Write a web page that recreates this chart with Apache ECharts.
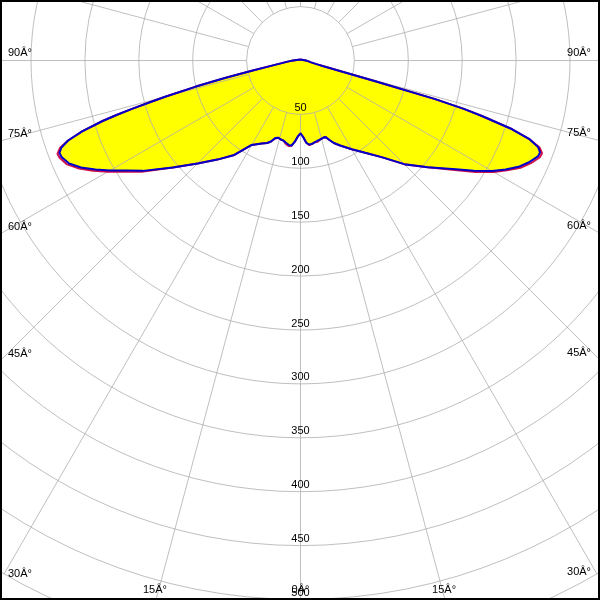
<!DOCTYPE html>
<html><head><meta charset="utf-8">
<script src="https://cdn.jsdelivr.net/npm/echarts@6/dist/echarts.min.js"></script>
<style>html,body{margin:0;padding:0;background:#fff}
#wrap{position:relative;width:600px;height:600px}
#base,#over{position:absolute;left:0;top:0;width:600px;height:600px}</style>
</head><body><div id="wrap"><div id="base"></div><div id="over"></div></div>
<script>
// Angles from nadir (degrees); left side = positive, right side = negative
const gamma = [0,2,4,6,8,10,12,14,16,18, 20,22,25,30,35,40,45,50,55,57.5, 60,62,64,66,68,69,70,71,72,73, 73.5,74,74.5,75,76,77,78,80,85,90, 180];
// Intensities (blue curve)
const blueLeft  = [68,70.5,75.5,79.5,79,77.5,76,75.5,74.5,75.5, 80,82.5,85,90.5,107,120,135,154.5,178.5,190, 204,215.5,226.5,235,239,239.5,236,228,213,192, 178,162,145,130,100,72,48,26,12,7, 1];
const blueRight = [67.5,71,76.5,78.5,78,77,76,75.5,74.8,74.5, 78.5,82.5,87,95,104.5,117,136,154,176,190.5, 205,215.5,225,232,237.5,238,234.5,225,206.5,176, 158,130,72,42,22,16,13,10,7,5, 1];
// Intensities (red curve)
const redLeft   = [68,70.5,75.5,79.5,80,78.5,76,75.5,74.5,76, 80,82.5,85,90.5,107,120,135,154.5,180,192, 206.5,218,228.5,237,241,241.5,237.5,228,213,192, 178,162,145,130,100,72,48,26,12,7, 1];
const redRight  = [67.5,71,76.5,79,78,77,77,75.5,74.8,74.5, 78.5,82.5,87,95,104.5,117,136,154,177.5,192.5, 207,217,227,234,239.5,240,236,225,206.5,176, 158,130,72,42,22,16,13,10,7,5, 1];
// Tick labels
const radialTicks = [50,100,150,200,250,300,350,400,450,500];
const angleTicks = [0,15,30,45,60,75,90];
const degSuffix = 'Â°';

const CX = 300.5, CY = 60.5, PX = 1.078, W = 600, H = 600;
const GRID = 'rgba(175,175,175,0.8)';
const FONT = '"Liberation Sans", Arial, sans-serif';

function curve(left, right) {
  const pts = [];
  for (let i = gamma.length - 1; i >= 0; i--) pts.push([right[i], -gamma[i]]);
  for (let i = 0; i < gamma.length; i++) pts.push([left[i], gamma[i]]);
  return pts;
}

const dataPolar = {center:[CX, CY], radius: 500 * PX};
const dataRadius = {polarIndex:0, type:'value', min:0, max:500, show:false};
const dataAngle = {polarIndex:0, type:'value', min:-180, max:180, startAngle:90, clockwise:true, show:false};

// Base layer: yellow fill only
const baseChart = echarts.init(document.getElementById('base'), null, {renderer:'canvas'});
baseChart.setOption({
  animation: false,
  backgroundColor: '#fff',
  polar: [dataPolar],
  radiusAxis: [dataRadius],
  angleAxis: [dataAngle],
  series: [
    {type:'line', coordinateSystem:'polar', polarIndex:0, data: curve(blueLeft, blueRight),
     symbol:'none', lineStyle:{width:0}, areaStyle:{color:'#ffff00', opacity:1}, silent:true}
  ]
});

// Angle labels where each spoke meets the picture edge
const graphics = [];
angleTicks.forEach(a => {
  const sides = a === 0 ? [1] : [-1, 1];
  sides.forEach(side => {
    const s = Math.sin(a * Math.PI / 180), c = Math.cos(a * Math.PI / 180);
    const tx = s > 1e-9 ? (side < 0 ? CX : (W - CX)) / s : Infinity;
    const ty = c > 1e-9 ? (H - CY) / c : Infinity;
    const txt = a + degSuffix;
    if (tx <= ty) {
      const y = CY + tx * c;
      graphics.push({type:'text', x: side < 0 ? 8 : 591, y: y - 2, silent:true, z: 50,
        style:{text: txt, fill:'#000', font:'11px ' + FONT, align: side < 0 ? 'left' : 'right', verticalAlign:'bottom'}});
    } else {
      const x = CX + side * ty * s;
      graphics.push({type:'text', x: a === 0 ? CX : x - 1, y: 595, silent:true, z: 50,
        style:{text: txt, fill:'#000', font:'11px ' + FONT, align:'center', verticalAlign:'bottom'}});
    }
  });
});
graphics.push({type:'rect', shape:{x:1, y:1, width:598, height:598}, silent:true, z:100,
  style:{fill:'none', stroke:'#000', lineWidth:2}});

// Overlay layer: grid, curves, labels
const overChart = echarts.init(document.getElementById('over'), null, {renderer:'canvas'});
overChart.setOption({
  animation: false,
  backgroundColor: 'transparent',
  polar: [
    dataPolar,
    {center:[CX, CY], radius: [50 * PX, 550 * PX]}
  ],
  radiusAxis: [
    dataRadius,
    {polarIndex:1, type:'value', min:50, max:550, interval:50,
     axisLine:{show:false}, axisTick:{show:false},
     splitLine:{show:true, lineStyle:{color:GRID, width:1}},
     axisLabel:{show:true, margin:0, color:'#000', fontSize:11, fontFamily:FONT,
       align:'center', verticalAlign:'bottom', padding:[0,0,1,0],
       formatter: v => radialTicks.includes(v) ? String(v) : ''}}
  ],
  angleAxis: [
    dataAngle,
    {polarIndex:1, type:'value', min:0, max:360, interval:15, startAngle:270,
     axisLine:{show:false}, axisTick:{show:false}, axisLabel:{show:false},
     splitLine:{show:true, lineStyle:{color:GRID, width:1}}}
  ],
  series: [
    {type:'line', coordinateSystem:'polar', polarIndex:0, data: curve(redLeft, redRight),
     symbol:'none', lineStyle:{color:'#d0104a', width:2}, z:5, silent:true},
    {type:'line', coordinateSystem:'polar', polarIndex:0, data: curve(blueLeft, blueRight),
     symbol:'none', lineStyle:{color:'#0000c8', width:2}, z:6, silent:true}
  ],
  graphic: graphics
});
</script></body></html>
